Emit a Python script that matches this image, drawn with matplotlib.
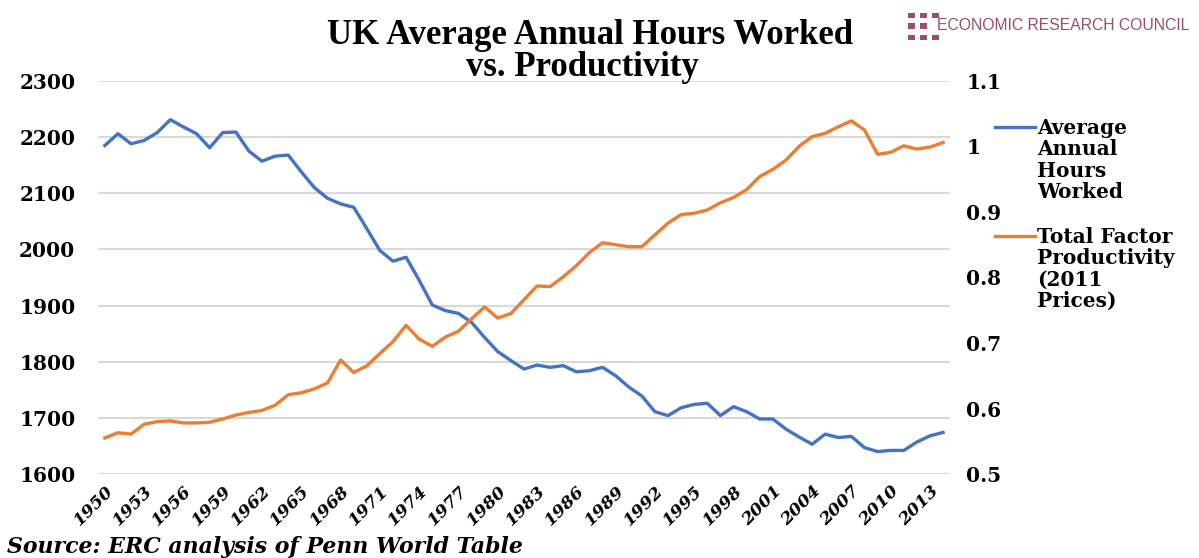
import matplotlib.pyplot as plt
from matplotlib.patches import Rectangle
from matplotlib.lines import Line2D

# data
years = list(range(1950, 2015))
hours = [2185, 2206, 2188, 2194, 2208, 2231, 2218, 2206, 2181, 2208,
         2209, 2175, 2157, 2166, 2168, 2138, 2110, 2091, 2081, 2075,
         2037, 1998, 1979, 1986, 1945, 1901, 1891, 1886, 1870, 1843,
         1818, 1802, 1787, 1794, 1790, 1793, 1782, 1784, 1790, 1775,
         1755, 1739, 1711, 1704, 1718, 1724, 1726, 1704, 1720, 1711,
         1698, 1698, 1680, 1666, 1653, 1671, 1665, 1667, 1647, 1640,
         1642, 1642, 1657, 1668, 1674]
tfp = [0.555, 0.563, 0.561, 0.576, 0.580, 0.581, 0.578, 0.578, 0.579, 0.584,
       0.590, 0.594, 0.597, 0.605, 0.621, 0.624, 0.630, 0.639, 0.674, 0.655,
       0.665, 0.684, 0.702, 0.727, 0.706, 0.695, 0.709, 0.718, 0.737, 0.755,
       0.738, 0.745, 0.766, 0.787, 0.786, 0.801, 0.818, 0.838, 0.853, 0.850,
       0.847, 0.847, 0.865, 0.883, 0.896, 0.898, 0.903, 0.914, 0.922, 0.934,
       0.954, 0.965, 0.979, 1.000, 1.015, 1.020, 1.030, 1.039, 1.025, 0.988,
       0.991, 1.001, 0.996, 0.999, 1.006]
xtick_years = list(range(1950, 2014, 3))
left_ticks = [1600, 1700, 1800, 1900, 2000, 2100, 2200, 2300]
right_ticks = [0.5, 0.6, 0.7, 0.8, 0.9, 1.0, 1.1]
right_labels = ['0.5', '0.6', '0.7', '0.8', '0.9', '1', '1.1']
series_names = ['Average\nAnnual\nHours\nWorked', 'Total Factor\nProductivity\n(2011\nPrices)']

blue = '#4472C4'
orange = '#ED7D31'
logo = '#9C4D6B'

fig = plt.figure(figsize=(11.99, 5.58), dpi=100)
ax = fig.add_axes([0.082, 0.1505, 0.71, 0.7045])
ax2 = ax.twinx()

ax.plot(years, hours, color=blue, lw=2.4)
ax2.plot(years, tfp, color=orange, lw=2.4)

ax.set_xlim(1949.5, 2014.5)
ax.set_ylim(1600, 2300)
ax2.set_ylim(0.5, 1.1)
ax.set_yticks(left_ticks)
ax2.set_yticks(right_ticks)
ax2.set_yticklabels(right_labels)
ax.set_xticks(xtick_years)
ax.set_xticklabels([str(y) for y in xtick_years], rotation=45, ha='right',
                   rotation_mode='anchor', fontsize=12.5, fontweight='bold',
                   fontstyle='italic', family='DejaVu Serif')

ax.grid(axis='y', color='#d9d9d9', lw=1.5)
ax.set_axisbelow(True)
for a in (ax, ax2):
    for s in a.spines.values():
        s.set_visible(False)
    a.tick_params(length=0)
for lab in ax.get_yticklabels() + ax2.get_yticklabels():
    lab.set_fontweight('bold')
    lab.set_family('DejaVu Serif')
    lab.set_fontsize(14.5)
ax.tick_params(axis='y', pad=16.5)
ax2.tick_params(axis='y', pad=12)
ax.tick_params(axis='x', pad=6)

# legend, drawn by hand so the line sits on the first text row
for name, col, ly in zip(series_names, [blue, orange], [1 - 127 / 558, 1 - 236 / 558]):
    fig.add_artist(Line2D([995 / 1199, 1035 / 1199], [ly, ly], color=col, lw=2.4))
    fig.text(1037 / 1199, ly + 0.016, name, ha='left', va='top', fontsize=14.5,
             fontweight='bold', family='DejaVu Serif', linespacing=1.08)

fig.text(0.492, 1 - 35 / 558, 'UK Average Annual Hours Worked', ha='center',
         va='center', fontsize=25, fontweight='bold', family='Liberation Serif')
fig.text(0.486, 1 - 68 / 558, 'vs. Productivity', ha='center',
         va='center', fontsize=25, fontweight='bold', family='Liberation Serif')

# logo
for i, ry in enumerate([13, 23.5, 35]):
    for j, rx in enumerate([908, 920, 932]):
        if i == 1 and j == 2:
            continue
        fig.add_artist(Rectangle((rx / 1199, 1 - (ry + 5) / 558), 7 / 1199, 5 / 558,
                                 transform=fig.transFigure, color=logo, lw=0))
fig.text(937 / 1199, 1 - 26 / 558, 'ECONOMIC RESEARCH COUNCIL', ha='left', va='center',
         fontsize=11.3, color=logo, family='Liberation Sans')

fig.text(0.006, 1 - 547 / 558, 'Source: ERC analysis of Penn World Table', ha='left',
         va='center', fontsize=15.8, fontweight='bold', fontstyle='italic',
         family='DejaVu Serif')

fig.savefig('out.png', dpi=100)
